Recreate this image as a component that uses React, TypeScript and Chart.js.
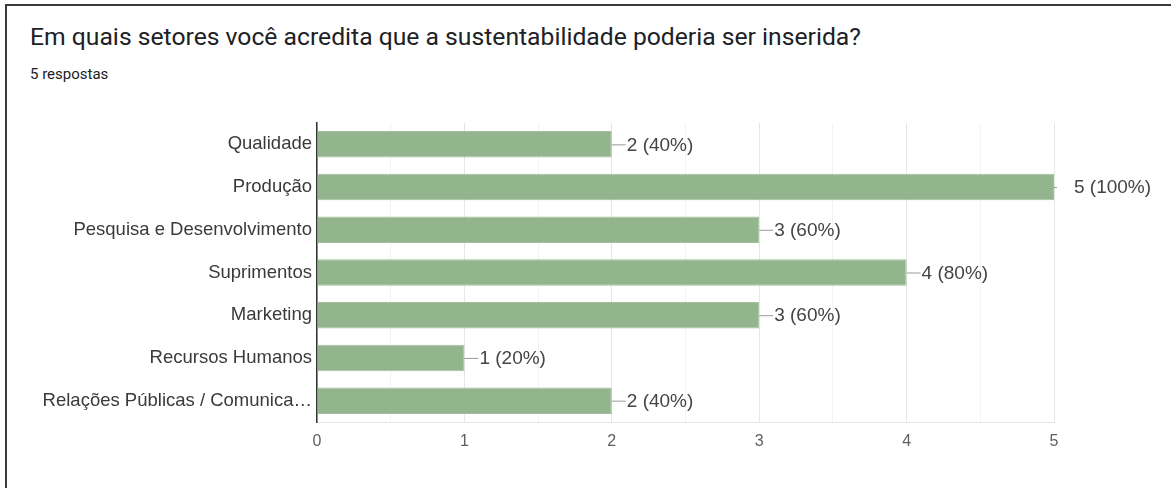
import React, { useEffect, useRef } from "react";
import { Chart, registerables } from "chart.js";

Chart.register(...registerables);

const titleText = "Em quais setores você acredita que a sustentabilidade poderia ser inserida?";
const subtitleText = "5 respostas";
const totalResponses = 5;
const categories = [
  "Qualidade",
  "Produção",
  "Pesquisa e Desenvolvimento",
  "Suprimentos",
  "Marketing",
  "Recursos Humanos",
  "Relações Públicas / Comunica…",
];
const counts = [2, 5, 3, 4, 3, 1, 2];
const xTickLabels = ["0", "1", "2", "3", "4", "5"];

const BAR = "rgb(147,181,141)";
const LABEL_FONT = "'Liberation Sans', Arial, sans-serif";

const valueLabels = {
  id: "valueLabels",
  afterDatasetsDraw(chart: any) {
    const ctx = chart.ctx;
    const meta = chart.getDatasetMeta(0);
    const xScale = chart.scales.x;
    ctx.save();
    ctx.font = `19px ${LABEL_FONT}`;
    ctx.textBaseline = "middle";
    ctx.textAlign = "left";
    meta.data.forEach((el: any, i: number) => {
      const v = counts[i];
      const pct = Math.round((v / totalResponses) * 100);
      const x = el.x;
      const y = el.y;
      const atEnd = x >= xScale.right - 1;
      const stem = atEnd ? 3 : 14;
      ctx.strokeStyle = "#9a9a9a";
      ctx.lineWidth = 1;
      ctx.beginPath();
      ctx.moveTo(x, y + 0.5);
      ctx.lineTo(x + stem, y + 0.5);
      ctx.stroke();
      ctx.fillStyle = "#444444";
      ctx.fillText(`${v} (${pct}%)`, x + (atEnd ? 20 : stem + 1), y + 1);
    });
    ctx.restore();
  },
};

export default function App() {
  const ref = useRef<HTMLCanvasElement | null>(null);
  useEffect(() => {
    document.body.style.margin = "0";
    const chart = new Chart(ref.current as HTMLCanvasElement, {
      type: "bar",
      data: {
        labels: categories,
        datasets: [
          {
            data: counts,
            backgroundColor: BAR,
            borderColor: "rgb(160,192,154)",
            borderWidth: 1,
            categoryPercentage: 1,
            barPercentage: 0.62,
          },
        ],
      },
      options: {
        indexAxis: "y",
        animation: false,
        responsive: false,
        maintainAspectRatio: false,
        layout: { padding: { left: 0, right: 117, top: 23, bottom: 30 } },
        plugins: {
          legend: { display: false },
          tooltip: { enabled: false },
          title: { display: false },
        },
        scales: {
          x: {
            min: 0,
            max: 5,
            ticks: {
              stepSize: 0.5,
              autoSkip: false,
              maxRotation: 0,
              padding: 10,
              color: "#5f5f5f",
              font: { family: LABEL_FONT, size: 16 },
              callback: (val: any) => {
                const n = Number(val);
                return Number.isInteger(n) ? xTickLabels[n] : "";
              },
            },
            grid: {
              drawTicks: false,
              color: (c: any) =>
                c.tick && Number.isInteger(c.tick.value) ? "#e6e6e6" : "#f3f3f3",
              lineWidth: 1,
            },
            border: { display: true, color: "#e6e6e6", width: 1 },
            afterFit: (s: any) => {
              s.height = 36;
            },
          },
          y: {
            ticks: {
              padding: 5,
              color: "#3a3a3a",
              font: { family: LABEL_FONT, size: 18.5 },
            },
            grid: { display: false, drawTicks: false },
            border: { display: true, color: "#333333", width: 1.5 },
            afterFit: (s: any) => {
              s.width = 317;
            },
          },
        },
      },
      plugins: [valueLabels],
    });
    return () => chart.destroy();
  }, []);

  return (
    <div
      style={{
        position: "fixed",
        left: 0,
        top: 0,
        width: 1171,
        height: 488,
        background: "#ffffff",
        overflow: "hidden",
      }}
    >
      <div
        style={{
          position: "absolute",
          left: 5,
          top: 4,
          right: -10,
          bottom: -10,
          borderTop: "2px solid #3a3a3a",
          borderLeft: "2px solid #3a3a3a",
        }}
      />
      <div
        style={{
          position: "absolute",
          left: 30,
          top: 23,
          fontFamily: "Roboto, sans-serif",
          fontSize: 24.7,
          color: "#202124",
          whiteSpace: "nowrap",
          lineHeight: "28px",
        }}
      >
        {titleText}
      </div>
      <div
        style={{
          position: "absolute",
          left: 30,
          top: 64,
          fontFamily: "Roboto, sans-serif",
          fontSize: 15,
          color: "#202124",
          whiteSpace: "nowrap",
          lineHeight: "20px",
        }}
      >
        {subtitleText}
      </div>
      <canvas
        ref={ref}
        width={1171}
        height={388}
        style={{ position: "absolute", left: 0, top: 100, width: 1171, height: 388 }}
      />
    </div>
  );
}
